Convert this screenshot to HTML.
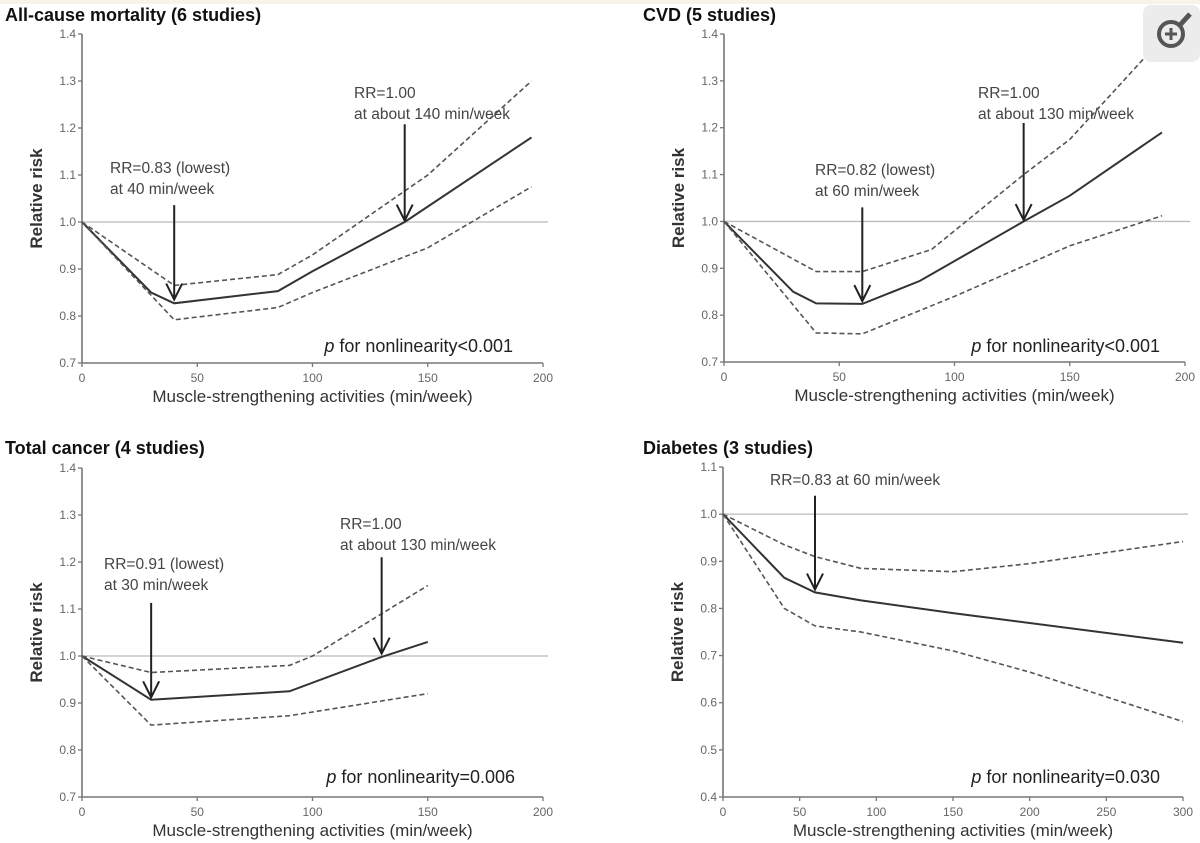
<!DOCTYPE html>
<html><head><meta charset="utf-8">
<style>
body{margin:0;background:#fff;}
svg{display:block;font-family:"Liberation Sans",Arial,sans-serif;}
</style></head>
<body>
<svg id="fig" width="1200" height="843" viewBox="0 0 1200 843">
<rect x="0" y="0" width="1200" height="843" fill="#fff"/>
<rect x="0" y="0" width="1200" height="4" fill="#f6f3e8"/>
</svg>
<script>
const ns="http://www.w3.org/2000/svg";
const fig=document.getElementById('fig');
// ---- data ----
const allX=[0,30,40,85,100,140,195];
const allRR=[1,0.85,0.827,0.853,0.895,1.0,1.18];
const allUpX=[0,40,85,100,150,195];
const allUp=[1,0.865,0.888,0.93,1.1,1.30];
const allLoX=[0,40,85,100,150,195];
const allLo=[1,0.792,0.818,0.85,0.945,1.075];
const cvdX=[0,30,40,60,85,130,150,190];
const cvdRR=[1,0.85,0.825,0.824,0.873,1.0,1.055,1.19];
const cvdUpX=[0,40,60,90,130,150,190];
const cvdUp=[1,0.893,0.893,0.94,1.1,1.175,1.39];
const cvdLoX=[0,40,60,100,150,190];
const cvdLo=[1,0.762,0.76,0.84,0.948,1.012];
const canX=[0,30,90,130,150];
const canRR=[1,0.907,0.925,0.998,1.03];
const canUpX=[0,30,90,100,150];
const canUp=[1,0.965,0.98,1.0,1.15];
const canLoX=[0,30,90,150];
const canLo=[1,0.853,0.873,0.92];
const diaX=[0,40,60,90,150,300];
const diaRR=[1,0.865,0.834,0.817,0.79,0.727];
const diaUpX=[0,40,60,90,150,200,300];
const diaUp=[1,0.935,0.91,0.885,0.878,0.895,0.942];
const diaLoX=[0,40,60,90,150,200,300];
const diaLo=[1,0.8,0.763,0.75,0.71,0.665,0.56];
const xTicks200=[0,50,100,150,200];
const xTicks300=[0,50,100,150,200,250,300];
const yTicksA=[0.7,0.8,0.9,1.0,1.1,1.2,1.3,1.4];
const yTicksD=[0.4,0.5,0.6,0.7,0.8,0.9,1.0,1.1];

function el(tag,attrs,parent){const e=document.createElementNS(ns,tag);for(const k in attrs)e.setAttribute(k,attrs[k]);(parent||fig).appendChild(e);return e;}

const panels=[
 {id:'all-cause',title:'All-cause mortality (6 studies)',tx:5,ty:21,x0:82,x1:543,y0:363,y1:34,xmax:200,ymin:0.7,ymax:1.4,xt:xTicks200,yt:yTicksA,
  s:[[allX,allRR],[allUpX,allUp],[allLoX,allLo]],
  arrows:[{x:40,top:1.036,tip:0.835,lines:['RR=0.83 (lowest)','at 40 min/week'],lx:110,ly:173},
          {x:140,top:1.208,tip:1.003,lines:['RR=1.00','at about 140 min/week'],lx:354,ly:98}],
  p:'<0.001',px:513,py:352},
 {id:'cvd',title:'CVD (5 studies)',tx:643,ty:21,x0:724,x1:1185,y0:362,y1:34,xmax:200,ymin:0.7,ymax:1.4,xt:xTicks200,yt:yTicksA,
  s:[[cvdX,cvdRR],[cvdUpX,cvdUp],[cvdLoX,cvdLo]],
  arrows:[{x:60,top:1.03,tip:0.83,lines:['RR=0.82 (lowest)','at 60 min/week'],lx:815,ly:175},
          {x:130,top:1.21,tip:1.003,lines:['RR=1.00','at about 130 min/week'],lx:978,ly:98}],
  p:'<0.001',px:1160,py:352},
 {id:'total-cancer',title:'Total cancer (4 studies)',tx:5,ty:454,x0:82,x1:543,y0:797,y1:468,xmax:200,ymin:0.7,ymax:1.4,xt:xTicks200,yt:yTicksA,
  s:[[canX,canRR],[canUpX,canUp],[canLoX,canLo]],
  arrows:[{x:30,top:1.113,tip:0.912,lines:['RR=0.91 (lowest)','at 30 min/week'],lx:104,ly:569},
          {x:130,top:1.21,tip:1.005,lines:['RR=1.00','at about 130 min/week'],lx:340,ly:529}],
  p:'=0.006',px:515,py:783},
 {id:'diabetes',title:'Diabetes (3 studies)',tx:643,ty:454,x0:723,x1:1183,y0:797,y1:467,xmax:300,ymin:0.4,ymax:1.1,xt:xTicks300,yt:yTicksD,
  s:[[diaX,diaRR],[diaUpX,diaUp],[diaLoX,diaLo]],
  arrows:[{x:60,top:1.039,tip:0.84,lines:['RR=0.83 at 60 min/week'],lx:770,ly:485}],
  p:'=0.030',px:1160,py:783}
];

panels.forEach(P=>{
  const g=el('g',{});
  
  
  const sx=v=>P.x0+(v/P.xmax)*(P.x1-P.x0);
  const sy=v=>P.y0-(v-P.ymin)/(P.ymax-P.ymin)*(P.y0-P.y1);
  const t=el('text',{x:P.tx,y:P.ty,'font-size':18,'font-weight':'bold',fill:'#111'},g);t.textContent=P.title;
  
  
  const ref=el('line',{x1:P.x0,x2:P.x1+5,y1:sy(1),y2:sy(1),stroke:'#bbb','stroke-width':1.3},g);
  
  
  const ax=el('path',{d:`M${P.x0} ${P.y1} V${P.y0} H${P.x1}`,stroke:'#777','stroke-width':1.6,fill:'none'},g);
  
  
  P.yt.forEach(v=>{
    el('line',{x1:P.x0-4,x2:P.x0,y1:sy(v),y2:sy(v),stroke:'#777','stroke-width':1.3},g);
    const l=el('text',{x:P.x0-6,y:sy(v)+4,'font-size':12,'text-anchor':'end',fill:'#666'},g);l.textContent=v.toFixed(1);
    
    
  });
  P.xt.forEach(v=>{
    el('line',{x1:sx(v),x2:sx(v),y1:P.y0,y2:P.y0+4,stroke:'#777','stroke-width':1.3},g);
    const l=el('text',{x:sx(v),y:P.y0+19,'font-size':12,'text-anchor':'middle',fill:'#666'},g);l.textContent=v;
    
    
  });
  const xl=el('text',{x:(P.x0+P.x1)/2,y:P.y0+39,'font-size':17,'text-anchor':'middle',fill:'#333'},g);
  xl.textContent='Muscle-strengthening activities (min/week)';
  
  
  const yc=(P.y0+P.y1)/2, yx=P.x0-40;
  const yl=el('text',{x:yx,y:yc,'font-size':17,'text-anchor':'middle',fill:'#333','font-weight':'bold',transform:`rotate(-90 ${yx} ${yc})`},g);
  yl.textContent='Relative risk';
  
  
  const names=['estimate-line','upper-ci-line','lower-ci-line'];
  P.s.forEach((s,i)=>{
    const d=s[0].map((x,k)=>(k?'L':'M')+sx(x).toFixed(1)+' '+sy(s[1][k]).toFixed(1)).join(' ');
    const p=el('path',{d:d,fill:'none',stroke:i?'#555':'#333','stroke-width':i?1.6:2,'stroke-dasharray':i?'5 3':'none'},g);
    
    
  });
  P.arrows.forEach(a=>{
    const X=sx(a.x),T=sy(a.top),B=sy(a.tip);
    const ar=el('path',{d:`M${X} ${T} V${B} M${X-8} ${B-16} L${X} ${B} L${X+8} ${B-16}`,stroke:'#222','stroke-width':2,fill:'none'},g);
    
    
    a.lines.forEach((ln,k)=>{
      const tt=el('text',{x:a.lx,y:a.ly+k*21,'font-size':15.5,fill:'#444'},g);tt.textContent=ln;
      
      
    });
  });
  const pt=el('text',{x:P.px,y:P.py,'font-size':18,'text-anchor':'end',fill:'#222'},g);
  pt.innerHTML='<tspan font-style="italic">p</tspan> for nonlinearity'+P.p.replace('<','&lt;');
  
  
});
const zg=el('g',{});


el('rect',{x:1143,y:5,width:57,height:57,rx:8,fill:'#ececec'},zg);
el('circle',{cx:1171,cy:34,r:12,fill:'none',stroke:'#555','stroke-width':4},zg);
el('line',{x1:1180,y1:25,x2:1190,y2:14,stroke:'#555','stroke-width':5},zg);
el('path',{d:'M1165 34 H1177 M1171 28 V40',stroke:'#555','stroke-width':3},zg);
</script>
</body></html>
